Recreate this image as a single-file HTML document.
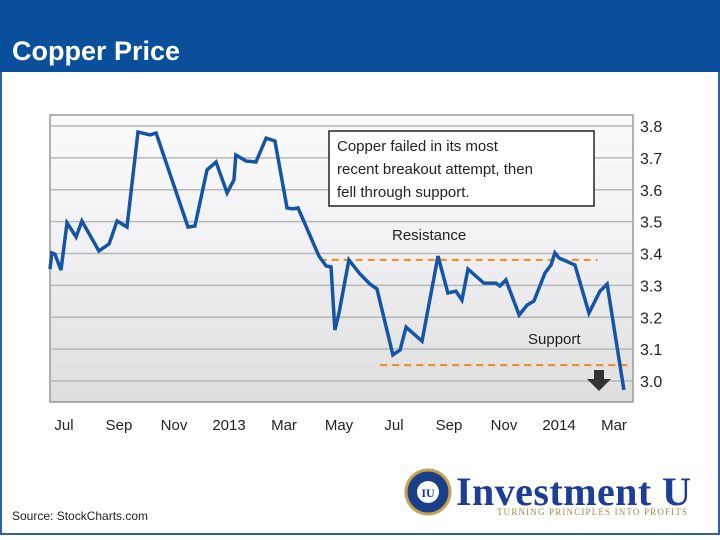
<!DOCTYPE html>
<html><head><meta charset="utf-8"><style>
body{margin:0;width:720px;height:535px;overflow:hidden;background:#fff;font-family:"Liberation Sans",sans-serif}
</style></head><body>
<svg width="720" height="535" xmlns="http://www.w3.org/2000/svg">
<defs>
<linearGradient id="bg" x1="0" y1="0" x2="0" y2="1">
<stop offset="0" stop-color="#fbfbfb"/><stop offset="0.45" stop-color="#f1f1f3"/><stop offset="1" stop-color="#dedede"/>
</linearGradient>
</defs>
<rect x="1" y="1" width="718" height="533" fill="#fff" stroke="#2b62a8" stroke-width="2"/>
<rect x="0" y="0" width="720" height="72" fill="#0a4f9c"/>
<text x="12" y="60" fill="#fff" font-size="27" font-weight="bold">Copper Price</text>
<rect x="50" y="115" width="583" height="287" fill="url(#bg)" stroke="#999" stroke-width="1.5"/>
<g id="grid"></g>
<g id="ylab"></g>
<g id="xlab"></g>
<g id="lines"></g>
<rect x="329" y="131" width="265" height="75" fill="#fff" stroke="#222" stroke-width="1.5"/>
<text font-size="15" fill="#222"><tspan x="337" y="151">Copper failed in its most</tspan><tspan x="337" y="174">recent breakout attempt, then</tspan><tspan x="337" y="197">fell through support.</tspan></text>
<text x="392" y="240" font-size="15" fill="#222">Resistance</text>
<text x="528" y="344" font-size="15" fill="#222">Support</text>
<path d="M594 370h10v9h7l-12 12-12-12h7z" fill="#333"/>
<text x="12" y="520" font-size="12" fill="#222">Source: StockCharts.com</text>
<g>
<circle cx="428" cy="492" r="22" fill="#1a3f8a" stroke="#c8a24a" stroke-width="3"/>
<circle cx="428" cy="492" r="11" fill="#fff"/>
<text x="428" y="497" font-size="12" font-weight="bold" fill="#1a3f8a" text-anchor="middle" font-family="Liberation Serif,serif">IU</text>
<text x="456" y="505" font-size="40" font-weight="bold" fill="#1d3f93" font-family="Liberation Serif,serif" textLength="235">Investment U</text>
<text x="497" y="515" font-size="9" fill="#a08a4a" font-family="Liberation Serif,serif" textLength="190">TURNING PRINCIPLES INTO PROFITS</text>
</g>
</svg>
<script>
const months=[-0.51,-0.44,-0.33,-0.11,0.11,0.44,0.65,1.27,1.64,1.93,2.29,2.69,3.13,3.35,4.51,4.76,5.2,5.53,5.93,6.18,6.25,6.62,6.98,7.35,7.67,8.11,8.33,8.51,9.27,9.53,9.71,9.85,10.0,10.36,10.76,11.13,11.38,11.96,12.22,12.44,13.02,13.6,13.96,14.25,14.47,14.69,15.27,15.71,15.85,16.07,16.55,16.84,17.09,17.49,17.71,17.85,18.0,18.58,19.09,19.49,19.75,20.36];
const prices=[3.351,3.402,3.398,3.348,3.496,3.452,3.502,3.408,3.430,3.502,3.483,3.781,3.772,3.778,3.483,3.486,3.662,3.687,3.590,3.631,3.709,3.690,3.687,3.762,3.753,3.543,3.540,3.543,3.392,3.361,3.358,3.160,3.213,3.380,3.336,3.304,3.289,3.082,3.097,3.169,3.125,3.392,3.276,3.282,3.254,3.351,3.307,3.307,3.298,3.317,3.207,3.238,3.251,3.339,3.364,3.402,3.386,3.364,3.213,3.282,3.304,2.972];
const yTicks=[3.8,3.7,3.6,3.5,3.4,3.3,3.2,3.1,3.0];
const xTickMonths=[0,2,4,6,8,10,12,14,16,18,20];
const xTickLabels=["Jul","Sep","Nov","2013","Mar","May","Jul","Sep","Nov","2014","Mar"];
const resistance=[3.38,9.3,19.4];
const support=[3.05,11.5,20.5];
const NS="http://www.w3.org/2000/svg";
const X=m=>64+27.5*m, Y=v=>126+(3.8-v)*318.75;
function mk(t,a,p){const e=document.createElementNS(NS,t);for(const k in a)e.setAttribute(k,a[k]);document.getElementById(p).appendChild(e);return e;}
yTicks.forEach(v=>{
 const l=mk('line',{x1:50,x2:633,y1:Y(v),y2:Y(v),stroke:'#b8b8b8','stroke-width':1.5},'grid');
 
 
 const t=mk('text',{x:640,y:Y(v)+6,'font-size':16,fill:'#222'},'ylab');t.textContent=v.toFixed(1);
 
 
});
xTickMonths.forEach((m,i)=>{
 const t=mk('text',{x:X(m),y:430,'font-size':15,fill:'#222','text-anchor':'middle'},'xlab');t.textContent=xTickLabels[i];
 
 
});
[[resistance,'resistance-line'],[support,'support-line']].forEach(([r,n])=>{
 const l=mk('line',{x1:X(r[1]),x2:X(r[2]),y1:Y(r[0]),y2:Y(r[0]),stroke:'#f08a1c','stroke-width':2,'stroke-dasharray':'7 5'},'lines');
 
 
});
const p=mk('polyline',{points:months.map((m,i)=>X(m)+','+Y(prices[i])).join(' '),fill:'none',stroke:'#1555a5','stroke-width':3.5,'stroke-linejoin':'miter'},'lines');


</script>
</body></html>
